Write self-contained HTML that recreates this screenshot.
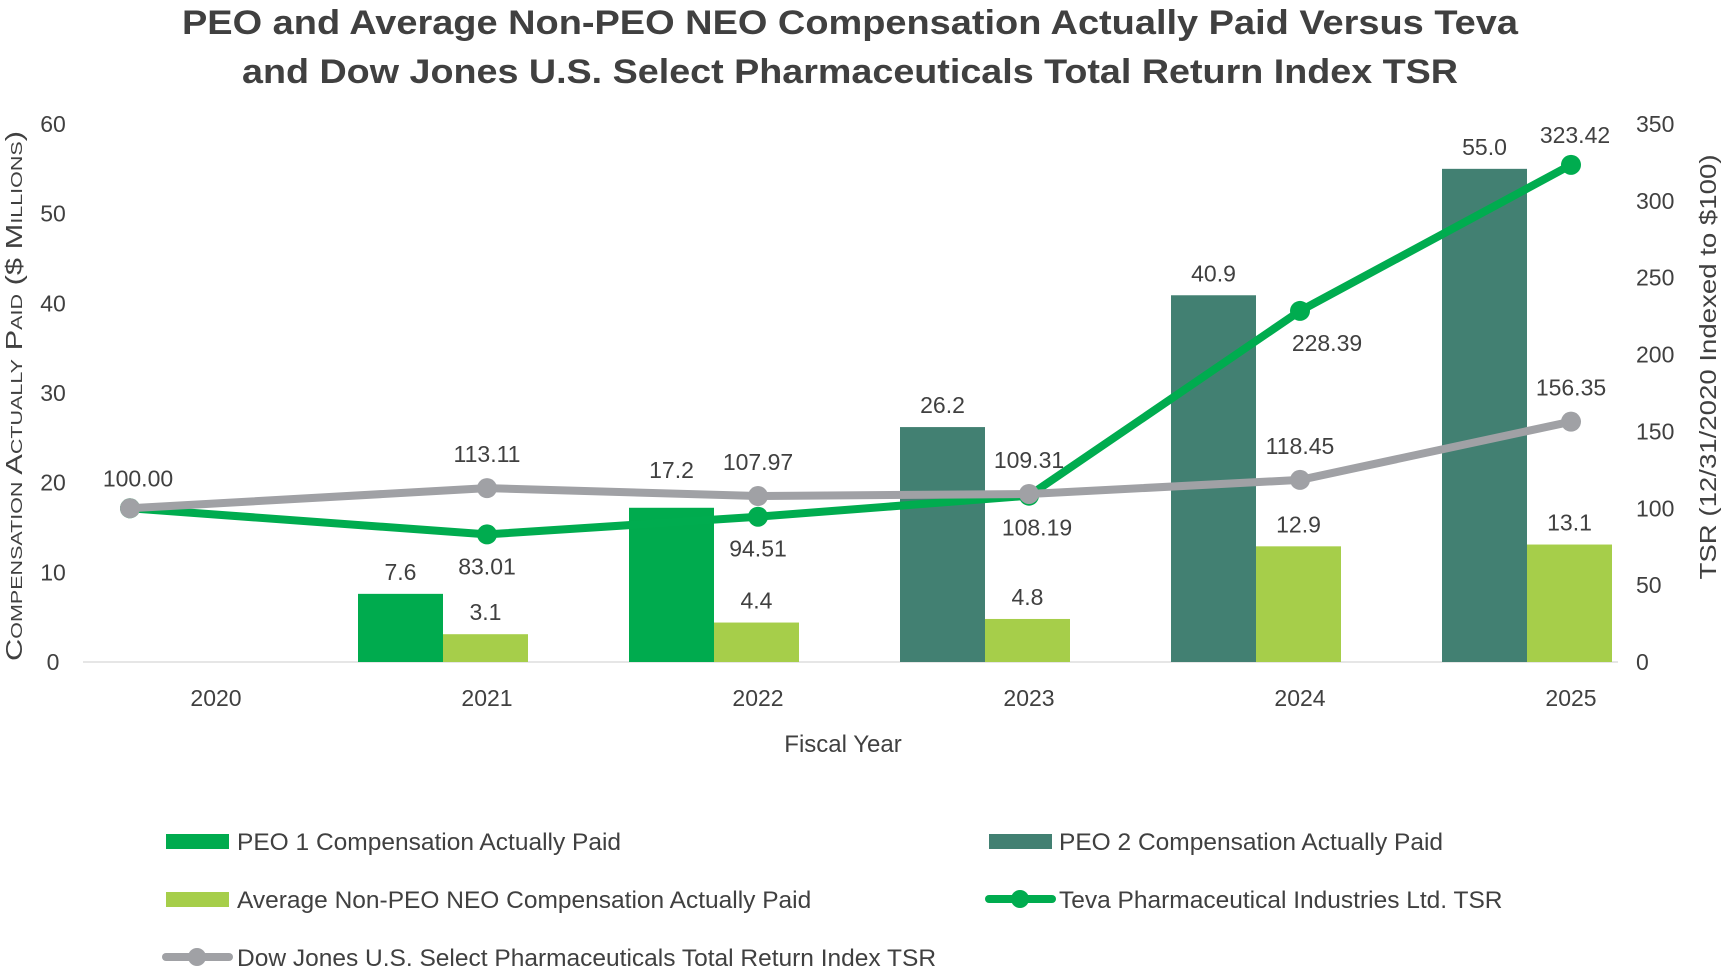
<!DOCTYPE html>
<html><head><meta charset="utf-8"><style>
html,body{margin:0;padding:0;background:#fff;}
svg{display:block;font-family:"Liberation Sans",sans-serif;}
</style></head><body>
<svg id="chart" width="1726" height="972" viewBox="0 0 1726 972" xmlns="http://www.w3.org/2000/svg">
<text x="850" y="34" text-anchor="middle" font-size="34" font-weight="bold" fill="#404040" textLength="1336" lengthAdjust="spacingAndGlyphs">PEO and Average Non-PEO NEO Compensation Actually Paid Versus Teva</text>
<text x="850" y="83" text-anchor="middle" font-size="34" font-weight="bold" fill="#404040" textLength="1216" lengthAdjust="spacingAndGlyphs">and Dow Jones U.S. Select Pharmaceuticals Total Return Index TSR</text>
<text transform="translate(22,396) rotate(-90)" text-anchor="middle" font-size="23" fill="#404040" style="font-variant:small-caps" textLength="530" lengthAdjust="spacingAndGlyphs">Compensation Actually Paid ($ Millions)</text>
<text transform="translate(1716,367) rotate(-90)" text-anchor="middle" font-size="23" fill="#404040" textLength="425" lengthAdjust="spacingAndGlyphs">TSR (12/31/2020 Indexed to $100)</text>
<text x="843" y="752" text-anchor="middle" font-size="24" fill="#404040">Fiscal Year</text>
<line x1="83" y1="662" x2="1618" y2="662" stroke="#e6e6e6" stroke-width="2"/>
<g id="g-left"></g>
<g id="g-right"></g>
<g id="g-x"></g>
<g id="g-bars"></g>
<g id="g-lines"></g>
<g>
 <rect x="166" y="834" width="63" height="15" fill="#00ab4e"/>
 <text x="237" y="850" font-size="24.5" fill="#404040">PEO 1 Compensation Actually Paid</text>
 <rect x="989" y="834" width="63" height="15" fill="#428072"/>
 <text x="1059" y="850" font-size="24.5" fill="#404040">PEO 2 Compensation Actually Paid</text>
 <rect x="166" y="892" width="63" height="15" fill="#a6ce4a"/>
 <text x="237" y="908" font-size="24.5" fill="#404040">Average Non-PEO NEO Compensation Actually Paid</text>
 <line x1="989" y1="899" x2="1052" y2="899" stroke="#00ac4f" stroke-width="8" stroke-linecap="round"/>
 <circle cx="1020" cy="899" r="9" fill="#00ac4f"/>
 <text x="1059" y="908" font-size="24.5" fill="#404040">Teva Pharmaceutical Industries Ltd. TSR</text>
 <line x1="166" y1="957" x2="229" y2="957" stroke="#a0a1a5" stroke-width="8" stroke-linecap="round"/>
 <circle cx="197" cy="957" r="9" fill="#a0a1a5"/>
 <text x="237" y="966" font-size="24.5" fill="#404040">Dow Jones U.S. Select Pharmaceuticals Total Return Index TSR</text>
</g>
</svg>
<script>
const categories = ["2020","2021","2022","2023","2024","2025"];
const peo1 = [null, 7.6, 17.2, null, null, null];
const peo2 = [null, null, null, 26.2, 40.9, 55.0];
const neo = [null, 3.1, 4.4, 4.8, 12.9, 13.1];
const teva = [100.00, 83.01, 94.51, 108.19, 228.39, 323.42];
const dow = [100.00, 113.11, 107.97, 109.31, 118.45, 156.35];
const leftTicks = [0,10,20,30,40,50,60];
const rightTicks = [0,50,100,150,200,250,300,350];

const NS = "http://www.w3.org/2000/svg";
const Y0 = 662, H = 538;
function yL(v){ return Y0 - v / 60 * H; }
function yR(v){ return Y0 - v / 350 * H; }
function xCat(i){ return 216 + i * 271; }
function xCluster(i){ return xCat(i) - 44; }
function xLine(i){ return i === 0 ? 130 : xCat(i); }
const BW = 85;
function mk(tag, attrs, parent){ const e = document.createElementNS(NS, tag); for (const k in attrs) e.setAttribute(k, attrs[k]); parent.appendChild(e); return e; }
function txt(s, x, y, parent, anchor, fs){ const t = mk("text", {x:x, y:y, "text-anchor":anchor||"middle", "font-size":fs||23, fill:"#404040"}, parent); t.textContent = s; return t; }

const gL = document.getElementById("g-left");
leftTicks.forEach(v => {
  const t = txt(String(v), 53, yL(v) + 8, gL);
  
  
});
const gR = document.getElementById("g-right");
rightTicks.forEach(v => {
  const t = txt(String(v), 1636, yR(v) + 8, gR, "start");
  
  
});
const gX = document.getElementById("g-x");
categories.forEach((c, i) => {
  const t = txt(c, xCat(i), 706, gX);
  
  
});

const gB = document.getElementById("g-bars");
categories.forEach((c, i) => {
  const cx = xCluster(i);
  const main = peo1[i] != null ? {v: peo1[i], col: "#00ab4e", n: "peo1"} : (peo2[i] != null ? {v: peo2[i], col: "#428072", n: "peo2"} : null);
  if (main) {
    const r = mk("rect", {x: cx - BW, y: yL(main.v), width: BW, height: Y0 - yL(main.v), fill: main.col}, gB);
    
    
    const off = (i === 2) ? 30 : 14;
    const t = txt(main.v.toFixed(1), cx - BW / 2, yL(main.v) - off, gB);
    
    
  }
  if (neo[i] != null) {
    const r = mk("rect", {x: cx, y: yL(neo[i]), width: BW, height: Y0 - yL(neo[i]), fill: "#a6ce4a"}, gB);
    
    
    const t = txt(neo[i].toFixed(1), cx + BW / 2, yL(neo[i]) - 14, gB);
    
    
  }
});

const gLn = document.getElementById("g-lines");
function drawLine(data, col, name, labelFn){
  const pts = data.map((v, i) => xLine(i) + "," + yR(v)).join(" ");
  const pl = mk("polyline", {points: pts, fill: "none", stroke: col, "stroke-width": 8, "stroke-linejoin": "round"}, gLn);
  
  
  data.forEach((v, i) => {
    const c = mk("circle", {cx: xLine(i), cy: yR(v), r: 10, fill: col}, gLn);
    
    
  });
  data.forEach((v, i) => {
    const p = labelFn(i, v);
    const t = txt(v.toFixed(2), p[0], p[1], gLn);
    
    
  });
}
drawLine(teva, "#00ac4f", "teva", (i, v) => {
  if (i === 0) return [-100, -100];
  if (i === 5) return [xLine(i) + 4, yR(v) - 22];
  if (i === 4) return [xLine(i) + 27, yR(v) + 40];
  if (i === 3) return [xLine(i) + 8, yR(v) + 40];
  return [xLine(i), yR(v) + 40];
});
drawLine(dow, "#a0a1a5", "dow", (i, v) => {
  if (i === 0) return [xLine(i) + 8, yR(v) - 22];
  return [xLine(i), yR(v) - 26];
});
</script>
</body></html>
